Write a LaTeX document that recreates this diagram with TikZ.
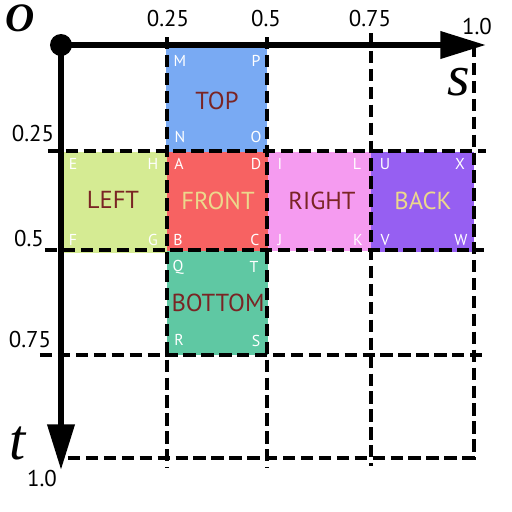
\documentclass[tikz,border=0pt]{standalone}
\usepackage{fontspec}
\setmainfont{PT Sans}
\newfontfamily\serifit{Liberation Serif}
\usetikzlibrary{arrows.meta}
\definecolor{ctop}{RGB}{121,170,243}
\definecolor{cleft}{RGB}{213,235,147}
\definecolor{cfront}{RGB}{247,98,98}
\definecolor{cright}{RGB}{245,155,240}
\definecolor{cback}{RGB}{150,95,242}
\definecolor{cbottom}{RGB}{95,200,163}
\definecolor{cdark}{RGB}{122,36,36}
\definecolor{clight}{RGB}{236,216,140}
\tikzset{
  grid/.style={line width=2.2pt, dash pattern=on 7pt off 3.2pt},
  axis/.style={line width=3.4pt, -{Triangle[length=26pt,width=15pt]}},
  num/.style={font=\fontsize{13}{15}\selectfont},
  facelbl/.style={font=\fontsize{14}{16}\selectfont},
  corner/.style={font=\fontsize{9}{10}\selectfont, text=white},
  axlbl/.style={font=\serifit\itshape\fontsize{33}{35}\selectfont}
}
\begin{document}
\begin{tikzpicture}[x=0.02cm, y=-0.02cm]
\useasboundingbox (0,0) rectangle (512,512);
% faces
\fill[ctop] (166,47) rectangle (267,152);
\fill[cleft] (64,152) rectangle (167,253);
\fill[cfront] (167,152) rectangle (268,251);
\fill[cright] (268,152) rectangle (371,251);
\fill[cback] (371,152) rectangle (474,252);
\fill[cbottom] (167,251) rectangle (268,355);
% face labels
\node[facelbl, text=cdark] (top) at (217,101) {TOP};
\node[facelbl, text=cdark] (left) at (113,200) {LEFT};
\node[facelbl, text=clight] (front) at (218,201) {FRONT};
\node[facelbl, text=cdark] (right) at (322,201) {RIGHT};
\node[facelbl, text=clight] (back) at (423,201) {BACK};
\node[facelbl, text=cdark] (bottom) at (218,303) {BOTTOM};
% corners
\node[corner] (cM) at (180,61) {M};
\node[corner] (cP) at (256,61) {P};
\node[corner] (cN) at (180,137) {N};
\node[corner] (cO) at (256,137) {O};
\node[corner] (cE) at (73,164) {E};
\node[corner] (cH) at (153,164) {H};
\node[corner] (cF) at (73,240) {F};
\node[corner] (cG) at (153,240) {G};
\node[corner] (cA) at (179,164) {A};
\node[corner] (cD) at (256,164) {D};
\node[corner] (cB) at (178,240) {B};
\node[corner] (cC) at (255,240) {C};
\node[corner] (cI) at (280,164) {I};
\node[corner] (cL) at (357,164) {L};
\node[corner] (cJ) at (280,240) {J};
\node[corner] (cK) at (358,240) {K};
\node[corner] (cU) at (385,164) {U};
\node[corner] (cX) at (460,164) {X};
\node[corner] (cV) at (385,240) {V};
\node[corner] (cW) at (461,240) {W};
\node[corner] (cQ) at (178,267) {Q};
\node[corner] (cT) at (254,267) {T};
\node[corner] (cR) at (179,340) {R};
\node[corner] (cS) at (256,341) {S};
% grid coordinates
\coordinate (h1a) at (48,151); \coordinate (h1b) at (486,151);
\coordinate (h2a) at (45,250); \coordinate (h2b) at (484,250);
\coordinate (h3a) at (40,355); \coordinate (h3b) at (486,355);
\coordinate (h4a) at (68,458); \coordinate (h4b) at (476,458);
\coordinate (v1a) at (167,37); \coordinate (v1b) at (167,468);
\coordinate (v2a) at (267,37); \coordinate (v2b) at (267,468);
\coordinate (v3a) at (371,33); \coordinate (v3b) at (371,466);
\coordinate (v4a) at (474,45); \coordinate (v4b) at (474,460);
\draw[grid] (h1a) -- (h1b);
\draw[grid] (h2a) -- (h2b);
\draw[grid] (h3a) -- (h3b);
\draw[grid] (h4a) -- (h4b);
\draw[grid] (v1a) -- (v1b);
\draw[grid] (v2a) -- (v2b);
\draw[grid] (v3a) -- (v3b);
\draw[grid] (v4a) -- (v4b);
% axes
\coordinate (orig) at (61,45);
\coordinate (sEnd) at (486,45);
\coordinate (tEnd) at (61,470);
\draw[axis] (orig) -- (sEnd);
\draw[axis] (orig) -- (tEnd);
\fill (orig) circle[radius=11];
% tick labels
\node[num] (s25) at (168,18) {0.25};
\node[num] (s50) at (266,18) {0.5};
\node[num] (s75) at (370,18) {0.75};
\node[num] (s100) at (477,26) {1.0};
\node[num] (t25) at (33,133) {0.25};
\node[num] (t50) at (29,238) {0.5};
\node[num] (t75) at (30,339) {0.75};
\node[num] (t100) at (42,478) {1.0};
% axis letters
\node[font=\serifit\itshape\bfseries\fontsize{23}{25}\selectfont] (lO) at (20,18) {O};
\node[axlbl] (ls) at (459,82) {s};
\node[axlbl] (lt) at (18,443) {t};
\end{tikzpicture}
\end{document}
